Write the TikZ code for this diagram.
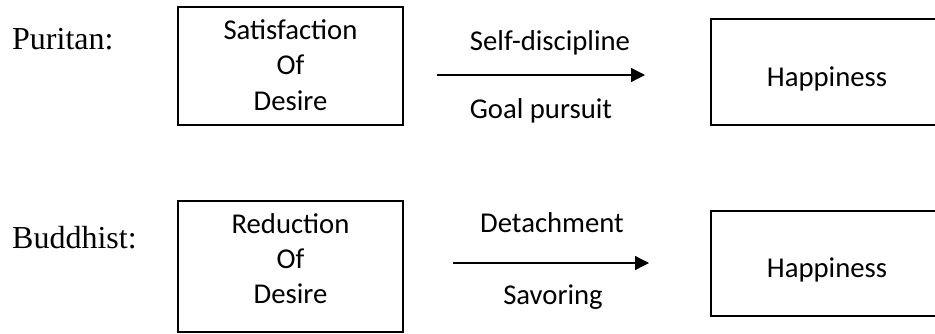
\documentclass[tikz,border=0pt]{standalone}
\usepackage{fontspec}
\setmainfont{Liberation Serif}
\newfontfamily\carlitofont{Carlito}
\usetikzlibrary{arrows.meta}
\begin{document}
\begin{tikzpicture}[x=1pt,y=-1pt,
  box/.style={draw,line width=1.3pt,inner sep=0pt},
  lbl/.style={font=\fontsize{32}{38}\selectfont,anchor=base west,inner sep=0pt},
  txt/.style={font=\carlitofont\fontsize{28.7}{35}\selectfont,anchor=base,inner sep=0pt},
  arr/.style={line width=1.3pt,-{Triangle[length=14pt,width=14pt]}}]
\useasboundingbox (0,0) rectangle (935,333);
\clip (0,0) rectangle (935,333);
% row 1
\node[lbl] (pur) at (12,49) {Puritan:};
\node[box,minimum width=225pt,minimum height=118pt] (b1) at (290.5,66) {};
\node[txt] (t1a) at (290.5,39) {Satisfaction};
\node[txt] (t1b) at (290.5,74) {Of};
\node[txt] (t1c) at (290.5,110) {Desire};
\coordinate (a1s) at (437,75);
\coordinate (a1e) at (645,75);
\draw[arr] (a1s) -- (a1e);
\node[txt] (s1) at (550,50) {Self-discipline};
\node[txt] (g1) at (541,118) {Goal pursuit};
\node[box,minimum width=259pt,minimum height=106pt] (h1) at (840.5,72) {};
\node[txt] (h1t) at (827,86) {Happiness};
% row 2
\node[lbl] (bud) at (12,248) {Buddhist:};
\node[box,minimum width=225pt,minimum height=131pt] (b2) at (290.5,266.5) {};
\node[txt] (t2a) at (290.5,233) {Reduction};
\node[txt] (t2b) at (290.5,268) {Of};
\node[txt] (t2c) at (290.5,303) {Desire};
\coordinate (a2s) at (453,263);
\coordinate (a2e) at (649,263);
\draw[arr] (a2s) -- (a2e);
\node[txt] (d2) at (552,232) {Detachment};
\node[txt] (s2) at (553,304) {Savoring};
\node[box,minimum width=259pt,minimum height=105pt] (h2) at (840.5,263.5) {};
\node[txt] (h2t) at (827,277) {Happiness};
\end{tikzpicture}
\end{document}
